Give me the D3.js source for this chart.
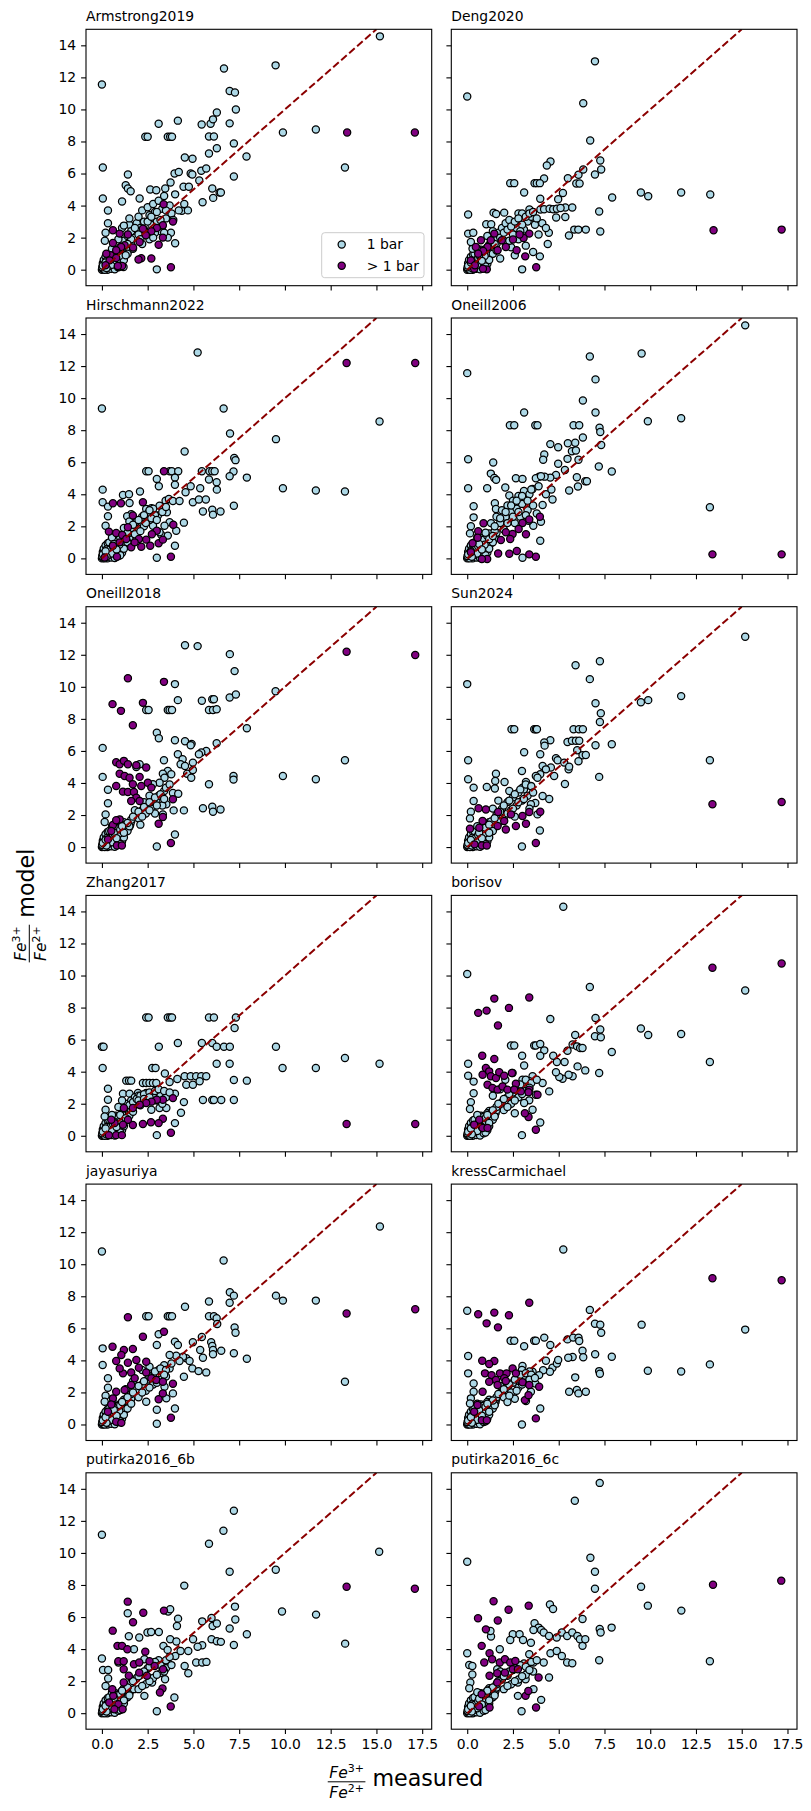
<!DOCTYPE html>
<html>
<head>
<meta charset="utf-8">
<script src="https://cdn.jsdelivr.net/npm/d3@7"></script>
<style>
  body { margin: 0; background: #fff; }
  svg { display: block; font-family: "DejaVu Sans", sans-serif; }
</style>
</head>
<body>
<svg id="chart" width="811" height="1811"></svg>
<script>
// ---- data ----
const panelNames = ["Armstrong2019", "Deng2020", "Hirschmann2022", "Oneill2006", "Oneill2018", "Sun2024",
    "Zhang2017", "borisov", "jayasuriya", "kressCarmichael", "putirka2016_6b", "putirka2016_6c"];
const xTicks = [0, 2.5, 5, 7.5, 10, 12.5, 15, 17.5];
const yTicks = [0, 2, 4, 6, 8, 10, 12, 14];
const legendLabels = ["1 bar", "> 1 bar"];

// black blob near the origin, same samples in every panel
const nearOrigin = [[0,0],[0.03,0.05],[0.08,0.02],[0.12,0.1],[0.18,0.05],[0.22,0.2],[0.1,0.25],[0.3,0.12],[0.28,0.35],
    [0.38,0.28],[0.35,0.5],[0.48,0.42],[0.45,0.15],[0.55,0.6],[0.52,0.82],[0.65,0.5],[0.72,0.78],[0.8,0.98],[0.88,0.7],
    [0.62,0.25],[0.82,0.4],[0.98,0.62],[0.3,0],[0.5,0.05],[0.7,0.02],[0.05,0.4],[0.1,0.6],[0.2,0.8],[0.32,0.95],
    [0.15,0],[0.4,0.7],[0.6,1.1],[0.9,1.0],[1.05,0.85],[0.75,1.25],[1.1,0.35],[0.9,0.15],[0.02,0.15],[0.25,0.55],[0.7,0.95],
    [1.15,1.1],[1.25,1.3],[1.35,1.2],[1.45,1.5],[1.55,1.4],[1.2,1.55],[1.0,1.25],[0.85,1.15],[1.3,0.95],[1.5,1.25],
    [1.4,1.0],[1.6,1.6],[1.1,1.4],[0.95,0.45],[1.2,0.6],[0.4,1.0],[0.55,1.3],[0.15,0.35],[0.45,0.55],[0.6,0.75],
    [0.75,0.65],[0.95,0.85],[0.35,0.2],[0.55,0.3],[0.25,0.1],[0.65,0.9],[1.0,0.2],[0.05,0.25],[0.2,0.45],[0.8,0.55]];

const armstrong1bar = [[0,11.56],[0.05,6.38],[0.05,4.44],[0.33,3.69],[0.33,2.9],[0.2,2.3],[0.16,1.8],[1.1,4.25],[1.42,5.94],
    [1.3,5.27],[1.42,5.06],[1.57,4.9],[2.06,4.44],[2.37,8.3],[2.5,8.3],[3.1,9.1],[3.6,8.3],[3.73,8.3],[3.83,8.3],[4.15,9.3],
    [2.64,5.0],[2.97,4.96],[3.46,5.06],[3.75,5.44],[3.97,6.0],[4.2,6.1],[4.53,7.0],[4.95,6.92],[4.85,6.0],[4.94,5.94],
    [4.46,5.17],[4.75,5.17],[5.32,5.56],[5.43,6.17],[5.7,6.31],[5.5,4.21],[5.45,9.06],[5.94,9.1],[6.07,9.38],[6.28,9.81],
    [5.85,8.31],[6.12,8.31],[5.85,7.25],[6.28,7.58],[6.03,5.06],[6.08,4.48],[6.43,4.81],[6.5,4.81],[6.67,12.56],[6.98,11.15],
    [7.27,11.06],[6.98,9.13],[7.32,10.0],[7.21,7.88],[7.21,5.81],[7.9,7.06],[9.49,12.75],[9.89,8.56],[11.69,8.75],[13.28,6.38],
    [15.19,14.56],[3.0,0.02],[4.0,1.65],[3.77,2.31],[4.37,3.67],[4.7,3.7],[4.5,4.1],[0.87,0.17],[1.18,0.17],
    [1.0,1.4],[1.2,1.8],[1.4,2.1],[1.5,2.8],[1.6,2.4],[1.8,2.0],[1.9,2.9],[2.0,3.3],[2.1,2.6],[2.2,3.7],[2.3,3.0],[2.4,2.2],
    [2.5,3.9],[2.6,3.4],[2.7,2.8],[2.8,4.1],[2.9,3.6],[3.0,3.0],[3.1,4.3],[3.2,2.4],[3.3,3.8],[3.4,4.6],[3.5,3.2],[3.6,2.0],
    [3.7,4.0],[3.8,3.5],[4.0,4.7],[4.2,3.7],[1.3,0.9],[1.7,1.3],[2.2,1.6],[2.6,1.9],[2.9,2.3],[3.3,2.7],[1.1,2.6],[1.5,3.2],
    [0.9,1.9],[1.2,2.75],[1.8,2.6],[2.0,2.2],[2.3,2.5],[2.5,3.0],[2.7,3.3],[3.0,3.6],[3.2,3.1],[3.5,3.7],[2.1,1.9],[1.6,1.9],
    [1.4,1.6],[2.8,2.0],[3.4,2.3],[3.9,3.1]];
const armstrongHigh = [[13.4,8.56],[17.1,8.56],[3.77,0.15],[2.7,0.7],[3.37,4.08],[3.88,3.0],[3.33,2.0],[3.1,1.56],[3.33,2.77],
    [3.0,2.6],[2.7,2.4],[2.4,2.15],[2.24,2.56],[2.06,1.73],[2.15,0.71],[2.0,0.63],[1.7,1.38],[1.42,2.2],[1.24,1.52],[0.97,2.25],
    [0.6,2.46],[0.6,1.67],[0.47,0.9],[1.1,0.23],[0.87,0.23],[0.78,0.73],[0.24,1.0],[1.05,1.42],[0.78,1.21],[0.42,0.58],[0.2,0.27]];

const deng1bar = [[0,10.81],[0.05,3.44],[0.05,2.25],[0.33,2.31],[6.34,10.38],[6.98,13.0],[6.72,8.06],[7.27,6.81],[7.32,6.25],
    [6.98,5.94],[7.21,3.63],[7.27,2.38],[7.92,4.5],[9.49,4.81],[9.89,4.58],[11.69,4.81],[13.28,4.69],[4.55,6.75],[4.35,6.5],
    [4.2,5.69],[3.68,5.4],[3.8,5.4],[3.97,5.4],[2.35,5.4],[2.57,5.4],[3.11,4.81],[3.99,4.42],[5.5,5.71],[5.96,5.38],[6.14,5.38],
    [6.08,5.92],[6.34,6.25],[4.97,4.4],[5.36,3.88],[5.74,3.88],[5.23,4.79],[4.86,3.25],[5.36,3.29],[5.85,2.5],[6.07,2.5],
    [6.48,2.5],[5.56,2.13],[4.46,2.31],[3.97,0.83],[3.0,0.02],[1.44,3.56],[1.58,3.48],[2.02,3.56],[1.04,2.83],[1.31,2.83],
    [2.8,3.5],[3.0,3.5],[3.4,3.75],[3.7,3.2],[4.0,3.75],[4.2,3.77],[4.5,3.8],[4.7,3.77],[4.9,3.8],[5.1,3.85],[0.29,1.31],[0.2,1.73],
    [1.2,1.5],[1.5,1.9],[1.7,2.3],[1.9,2.6],[2.1,2.9],[2.3,3.1],[2.5,2.2],[2.7,2.6],[2.9,3.0],[3.1,2.5],[3.3,3.0],[3.5,3.3],
    [3.7,2.8],[3.9,2.2],[4.1,2.9],[4.3,2.6],[2.0,1.8],[2.4,1.4],[2.8,1.9],[3.2,1.5],[1.6,1.2],[1.1,2.1],[1.4,2.4],[3.6,1.1],
    [2.6,0.9],[1.8,0.7],[4.4,1.6],[1.8,2.0],[2.0,2.3],[2.2,2.5],[2.4,2.7],[2.6,3.0],[2.8,3.2],[3.0,2.8],[3.2,3.3],[3.4,3.5],
    [3.6,3.6],[1.5,1.6],[2.3,1.8],[2.9,2.4],[3.8,3.2]];
const dengHigh = [[13.46,2.46],[17.18,2.5],[3.77,0.15],[3.17,0.83],[3.39,2.25],[3.08,1.98],[2.86,2.19],[2.7,1.21],[2.5,1.88],
    [2.11,1.42],[1.89,1.83],[1.66,1.21],[1.48,2.25],[1.29,1.83],[1.11,1.42],[0.87,1.17],[0.75,1.83],[0.47,1.42],[1.07,0.02],
    [0.86,0.06],[0.38,0.06],[0.2,0.58],[0.6,1.0],[0.42,0.27]];

const hirsch1bar = [[0,9.35],[5.23,12.85],[6.65,9.35],[7.0,7.79],[9.51,7.44],[15.17,8.54],[4.52,6.67],[7.23,6.27],[7.3,6.13],
    [7.19,5.42],[6.98,5.13],[7.92,5.04],[9.89,4.38],[11.69,4.23],[13.28,4.17],[7.21,3.29],[2.42,5.44],[2.55,5.44],[3.7,5.44],
    [3.82,5.44],[4.17,5.44],[3.0,4.96],[3.11,4.5],[3.99,5.04],[3.99,4.6],[5.46,5.44],[5.88,5.44],[6.03,5.44],[6.16,5.44],
    [5.85,4.92],[6.27,4.75],[6.28,4.29],[5.37,4.38],[4.85,4.5],[4.57,4.13],[4.97,3.5],[5.3,3.67],[5.68,3.67],[5.52,2.92],
    [6.03,3.04],[6.07,2.73],[6.48,2.92],[4.48,2.23],[3.99,0.79],[3.0,0.04],[0.04,4.29],[0.04,3.5],[0.33,3.23],[0.33,2.63],
    [0.2,2.04],[1.15,3.96],[1.48,4.0],[2.08,4.17],[1.51,3.46],[1.6,2.75],[1.38,2.63],[2.42,3.08],[2.7,3.13],[3.15,3.29],
    [3.48,3.6],[3.66,3.71],[3.88,3.58],[4.24,3.58],[3.06,2.67],[3.55,2.88],[3.7,2.25],[3.42,2.04],[3.24,1.48],[2.02,1.83],
    [2.79,2.04],[3.15,1.63],[3.6,1.42],[4.06,1.73],[1.0,1.3],[1.3,1.5],[1.6,1.9],[1.9,2.3],[2.2,2.6],[2.5,2.8],[2.8,3.1],
    [1.8,1.5],[2.3,2.0],[2.6,2.4],[1.2,1.9],[1.5,2.3],[1.7,2.1],[2.0,2.4],[2.3,2.7],[2.6,3.0],[2.9,2.7],[2.1,1.7],[2.4,2.2],
    [2.7,2.5],[3.0,2.4],[3.3,2.9],[1.4,1.6],[3.5,3.2]];
const hirschHigh = [[13.37,12.19],[17.12,12.19],[3.77,0.1],[0.82,0.1],[0.6,3.44],[1.04,3.44],[2.24,3.5],[1.69,2.67],[1.42,1.94],
    [0.38,1.67],[0.78,1.58],[1.11,1.46],[3.9,2.1],[3.39,5.44],[3.0,1.73],[2.73,1.5],[2.42,1.17],[2.15,0.73],[1.6,0.69],
    [2.64,0.79],[3.1,0.94],[3.33,1.17],[2.02,1.21],[1.79,1.0],[1.33,1.21],[0.97,1.0],[0.6,0.79],[0.15,0.06]];

const oneill06_1bar = [[15.19,14.54],[0,11.56],[6.7,12.6],[9.53,12.79],[7.01,11.17],[6.32,9.85],[7.01,9.1],[7.23,8.15],
    [7.27,7.88],[7.32,7.08],[9.87,8.56],[11.69,8.75],[13.26,3.19],[3.11,9.1],[2.33,8.31],[2.57,8.31],[3.72,8.31],[3.84,8.31],
    [5.81,8.31],[6.12,8.31],[6.32,7.54],[5.9,7.21],[5.5,7.19],[4.54,7.13],[4.97,6.94],[4.21,6.48],[4.15,6.15],[5.72,6.69],
    [5.94,6.73],[6.08,6.15],[5.48,6.21],[4.97,5.9],[5.34,5.52],[4.85,5.21],[4.54,5.04],[4.23,5.1],[3.93,5.1],[7.19,5.73],
    [7.9,5.42],[5.99,5.06],[6.05,4.48],[6.45,4.81],[6.54,4.81],[5.57,4.23],[1.42,5.98],[1.29,5.29],[1.48,5.02],[1.58,4.9],
    [0.05,6.19],[0.05,4.38],[1.09,4.38],[2.08,4.42],[2.66,5.0],[3.02,4.96],[3.75,5.0],[4.03,5.13],[0.35,3.25],[0.35,2.56],
    [0.2,2.0],[0.15,1.56],[3.99,1.1],[3.02,0.04],[1.51,3.44],[1.57,3.08],[2.3,3.92],[3.21,3.71],[3.57,4.33],[4.66,3.67],
    [4.12,3.33],[4.03,2.29],[3.61,2.04],[3.35,2.35],[1.0,1.6],[1.3,2.2],[1.6,2.6],[1.9,3.0],[2.2,3.3],[2.5,3.6],[2.8,3.9],
    [3.1,4.2],[3.4,4.0],[1.8,2.2],[2.1,2.6],[2.4,2.9],[2.7,3.1],[3.0,3.4],[3.3,3.0],[3.6,3.3],[2.0,1.8],[2.6,2.2],[1.2,1.2],
    [1.5,1.7],[2.9,2.6],[3.8,2.8],[4.3,4.0],[4.6,4.3],[1.5,2.0],[1.8,2.5],[2.1,2.9],[2.4,3.3],[2.7,3.6],[3.0,3.9],[3.3,3.6],
    [2.2,2.2],[2.5,2.6],[2.8,2.9],[1.4,1.4],[3.5,4.3],[3.9,4.5],[3.2,2.7]];
const oneill06High = [[13.4,0.25],[17.18,0.25],[3.75,0.1],[3.39,0.25],[2.71,0.46],[2.3,0.29],[1.69,0.31],[1.09,-0.04],
    [0.8,-0.04],[3.97,2.6],[3.39,2.42],[3.02,2.21],[3.21,1.5],[2.81,1.83],[2.48,1.52],[2.11,1.63],[2.35,1.21],[1.84,1.15],
    [0.89,2.19],[0.6,1.69],[0.57,1.29],[0.29,0.94],[0.2,0.38]];

const oneill18_1bar = [[4.54,12.6],[5.23,12.54],[6.99,12.04],[7.25,10.98],[3.99,10.17],[4.15,9.17],[5.46,9.13],[6.03,9.23],
    [6.12,9.23],[6.98,9.33],[7.32,9.52],[9.49,9.73],[2.42,8.56],[2.55,8.56],[3.6,8.56],[3.7,8.56],[3.83,8.56],[5.85,8.56],
    [6.07,8.56],[6.27,8.6],[7.92,7.42],[3.0,7.13],[3.11,6.79],[3.99,6.67],[4.54,6.6],[4.9,6.44],[4.85,6.35],[5.7,6.0],[5.43,5.9],
    [5.3,5.79],[6.27,6.48],[4.15,5.79],[4.41,5.48],[4.3,5.17],[4.54,5.06],[3.39,5.42],[3.6,4.75],[3.33,4.58],[3.79,4.54],
    [4.66,4.58],[4.97,4.81],[4.88,4.33],[4.97,5.27],[7.19,4.44],[7.19,4.21],[9.89,4.44],[11.69,4.23],[13.28,5.42],[5.85,3.92],
    [5.52,2.42],[6.03,2.52],[6.07,2.21],[6.48,2.35],[4.48,2.29],[3.99,0.79],[3.0,0.04],[0.04,6.19],[0.04,4.38],[0.33,3.58],
    [0.33,2.73],[0.2,2.04],[0.15,1.56],[2.06,5.17],[1.88,5.0],[3.42,4.33],[3.88,3.38],[4.17,3.33],[3.15,4.02],[2.79,3.92],
    [2.97,2.88],[3.52,2.67],[3.92,2.29],[3.33,2.04],[1.0,1.1],[1.3,1.4],[1.6,1.7],[1.9,2.0],[2.2,2.3],[2.5,2.6],[2.8,2.9],
    [3.1,3.2],[3.4,3.5],[1.5,1.3],[2.0,1.8],[2.4,2.1],[2.7,2.4],[1.8,2.3],[2.3,2.8],[2.6,3.2],[2.1,1.4],[2.9,2.1],[3.3,2.6],[1.2,0.9],
    [1.4,1.5],[1.7,1.9],[2.0,2.2],[2.3,2.5],[2.6,2.8],[2.9,3.1],[3.2,3.3],[3.5,3.7],[3.7,3.9],[2.2,1.9],[2.6,2.3],[3.0,2.6],
    [1.1,1.3],[3.4,3.0]];
const oneill18High = [[13.37,12.19],[17.12,11.98],[1.42,10.54],[3.39,10.31],[0.58,8.92],[1.04,8.5],[2.24,9.0],[1.69,7.6],
    [0.78,5.29],[0.97,5.17],[1.2,5.38],[1.42,5.17],[1.88,5.1],[2.42,4.96],[0.97,4.58],[1.24,4.44],[1.51,4.33],[1.69,3.92],
    [2.06,4.38],[2.15,3.81],[2.51,4.02],[2.7,3.71],[0.78,3.81],[1.15,3.46],[1.42,3.44],[1.75,3.44],[1.88,3.08],[1.6,2.88],
    [2.06,2.88],[3.88,2.98],[3.33,1.88],[3.1,1.46],[3.77,0.25],[0.82,0.1],[1.09,0.1],[0.6,1.38],[0.51,1.0],[0.33,0.48],
    [0.97,1.73],[0.78,1.67]];

const sun1bar = [[15.19,13.13],[0,10.17],[5.92,11.35],[7.25,11.6],[6.7,10.48],[7.01,8.98],[7.3,8.35],[7.25,7.81],[9.49,9.04],
    [9.89,9.17],[11.69,9.42],[13.26,5.42],[2.42,7.35],[2.57,7.35],[3.66,7.35],[3.75,7.35],[3.81,7.35],[5.81,7.35],[6.1,7.35],
    [6.32,7.35],[4.54,6.67],[4.21,6.52],[4.23,6.33],[3.11,5.92],[3.99,5.79],[5.48,6.56],[5.72,6.63],[5.94,6.63],[6.12,6.63],
    [6.01,6.04],[6.3,5.73],[6.48,5.75],[6.08,5.35],[7.01,6.35],[7.9,6.42],[7.21,4.38],[4.85,5.54],[4.94,5.42],[5.3,5.27],
    [5.54,4.85],[5.57,5.02],[5.34,3.94],[0.05,5.42],[0.05,4.23],[0.35,3.71],[0.35,2.88],[0.2,2.21],[0.15,1.79],[1.57,4.58],
    [1.53,4.13],[1.07,3.75],[2.04,4.06],[1.51,3.65],[3.97,1.04],[2.99,0.04],[4.75,4.44],[4.57,4.96],[4.12,5.06],[4.3,4.85],
    [3.99,4.54],[2.99,4.75],[3.21,4.06],[3.75,4.44],[3.02,3.71],[3.48,3.81],[3.84,4.33],[4.48,3.0],[4.12,3.19],[3.72,2.75],
    [3.48,2.67],[3.84,2.04],[1.0,1.2],[1.3,1.6],[1.6,2.0],[1.9,2.4],[2.2,2.8],[2.5,3.1],[2.8,3.4],[3.1,3.6],[1.8,1.6],[2.1,2.0],
    [2.4,2.3],[2.7,2.6],[3.0,2.9],[3.3,3.2],[1.4,2.4],[1.7,2.9],[2.3,3.5],[2.6,1.9],[3.4,2.4],[1.2,0.9],[1.5,1.8],[1.8,2.2],
    [2.0,2.6],[2.3,2.9],[2.6,3.3],[2.9,3.6],[3.2,3.9],[3.5,3.8],[2.2,2.1],[2.5,2.4],[2.8,2.8],[3.1,3.0],[3.6,3.4],[1.2,1.4]];
const sunHigh = [[13.4,2.67],[17.18,2.81],[3.75,0.25],[3.99,2.21],[3.39,2.19],[3.02,1.94],[3.21,1.46],[2.66,1.31],[2.11,1.1],
    [1.66,1.31],[1.69,2.19],[1.02,2.35],[0.62,2.42],[0.84,1.63],[0.66,1.21],[0.15,1.15],[0.8,0.1],[1.07,0.1],[0.4,0.17],
    [2.39,2.04],[2.02,1.63]];

const zhang1bar = [[2.42,7.38],[2.55,7.38],[3.6,7.38],[3.73,7.38],[3.83,7.38],[5.85,7.38],[6.12,7.38],[7.32,7.38],[7.25,6.73],
    [0,5.56],[0.09,5.56],[3.11,5.56],[4.15,5.79],[5.46,5.79],[6.03,5.79],[6.27,5.56],[6.67,5.56],[6.99,5.56],[9.51,5.56],
    [13.28,4.85],[15.17,4.5],[9.87,4.23],[11.69,4.23],[6.27,4.5],[6.98,4.5],[7.21,3.48],[7.92,3.44],[0.04,4.23],[2.75,4.23],
    [2.93,4.23],[3.44,3.88],[1.33,3.44],[1.48,3.44],[1.6,3.44],[2.24,3.29],[2.42,3.29],[2.6,3.29],[2.79,3.29],[2.97,3.29],
    [3.7,3.35],[4.12,3.54],[4.52,3.71],[4.85,3.71],[5.15,3.71],[5.43,3.71],[5.7,3.71],[4.61,3.19],[4.97,3.19],[5.34,3.4],
    [0.33,2.94],[0.33,2.25],[0.2,1.63],[0.15,1.21],[1.15,2.63],[1.51,2.63],[1.97,2.67],[2.42,2.67],[3.0,2.77],[3.55,2.63],
    [3.99,2.63],[4.48,2.1],[5.52,2.23],[6.03,2.23],[6.12,2.23],[6.52,2.23],[7.21,2.23],[4.32,1.44],[3.99,0.79],[3.0,0.04],
    [3.15,1.73],[3.52,1.73],[2.7,1.63],[1.0,1.3],[1.2,1.7],[1.4,2.0],[1.6,2.2],[1.8,2.4],[2.0,2.5],[2.2,2.4],[2.5,2.5],
    [2.8,2.6],[3.2,2.5],[3.5,2.4],[1.7,1.5],[2.1,1.9],[2.4,2.1],[2.7,2.2],[3.0,2.2],[3.3,2.0],[1.3,1.1],[0.9,1.8],[1.1,2.2],
    [1.5,1.9],[1.7,2.1],[1.9,2.3],[2.1,2.5],[2.3,2.6],[2.6,2.7],[2.9,2.8],[3.1,2.9],[3.4,2.8],[3.7,2.7],[2.0,2.2],[2.3,2.3],[2.6,2.4]];
const zhangHigh = [[13.37,0.73],[17.12,0.73],[3.77,0.19],[3.88,2.35],[3.33,2.25],[3.0,2.25],[2.71,2.13],[2.42,2.04],[2.06,1.94],
    [1.69,1.73],[1.2,1.73],[3.33,1.06],[3.1,0.79],[2.68,0.85],[2.24,0.73],[1.69,0.67],[1.42,1.0],[1.15,0.69],[0.69,0.79],
    [0.51,1.0],[0.38,0.04],[0.78,0.04],[1.09,0.04]];

const borisov1bar = [[5.25,14.29],[0,10.1],[6.7,9.29],[4.54,7.29],[7.01,7.35],[7.27,6.63],[6.98,6.21],[7.3,6.15],[9.49,6.69],
    [9.89,6.29],[11.69,6.35],[15.19,9.06],[13.26,4.6],[7.9,5.23],[7.21,3.92],[5.9,6.29],[2.39,5.63],[2.57,5.63],[3.66,5.63],
    [3.75,5.63],[3.99,5.73],[5.76,5.69],[6.0,5.58],[6.17,5.48],[6.3,5.48],[5.48,5.31],[4.7,5.0],[4.9,4.6],[5.32,4.6],[4.21,5.33],
    [3.99,5.0],[3.0,5.0],[3.11,4.38],[6.03,4.33],[6.45,4.08],[5.76,3.71],[5.54,3.81],[5.21,3.56],[5.03,3.67],[4.85,3.96],
    [0.05,4.5],[0.05,3.75],[0.35,3.38],[0.35,2.65],[0.2,2.1],[0.15,1.67],[4.48,2.77],[3.99,0.83],[2.99,0.04],[2.48,3.92],
    [2.08,3.5],[3.02,3.5],[3.57,3.71],[4.12,3.29],[3.75,2.56],[3.39,2.21],[3.11,2.04],[3.57,1.63],[1.0,1.1],[1.3,1.4],[1.6,1.8],
    [1.9,2.1],[2.2,2.4],[2.5,2.7],[2.8,3.0],[3.1,3.2],[3.4,3.4],[1.5,1.2],[2.0,1.6],[2.4,2.0],[2.8,2.4],[3.2,2.8],[1.4,2.5],
    [1.8,2.9],[1.2,0.8],[2.6,1.4],[1.4,1.6],[1.7,2.0],[2.0,2.3],[2.3,2.6],[2.6,2.9],[2.9,3.2],[3.2,3.5],[3.5,3.3],[2.2,1.8],
    [2.6,2.2],[3.0,2.6],[3.4,3.0],[1.1,1.3],[3.8,3.5]];
const borisovHigh = [[13.4,10.48],[17.18,10.75],[0.6,7.67],[1.06,7.81],[1.48,8.56],[3.39,8.63],[2.28,7.98],[1.68,6.88],[0.82,5.0],
    [1.48,4.79],[1.02,4.23],[1.2,4.02],[0.84,3.81],[1.29,3.71],[1.57,3.6],[1.75,3.96],[2.02,3.75],[2.44,3.92],[1.11,3.19],
    [1.38,2.98],[1.66,2.88],[1.93,3.08],[2.2,2.88],[2.66,3.25],[2.57,2.88],[2.93,2.77],[3.39,2.88],[3.84,2.56],[3.35,2.71],
    [3.35,1.17],[3.15,1.4],[3.75,0.38],[0.66,1.0],[0.38,0.69],[0.84,0.48],[1.11,0.48]];

const jaya1bar = [[0,10.79],[15.19,12.35],[6.65,10.23],[6.99,8.25],[7.21,8.04],[6.98,7.6],[9.51,8.04],[9.89,7.73],[11.69,7.73],
    [4.54,7.35],[5.85,7.67],[2.42,6.75],[2.55,6.75],[3.6,6.75],[3.7,6.75],[3.83,6.75],[5.85,6.75],[6.12,6.75],[6.27,6.63],
    [6.3,6.27],[7.25,6.06],[7.3,5.73],[3.1,5.63],[3.99,5.17],[4.15,4.96],[4.97,5.13],[5.46,5.46],[5.97,5.13],[6.03,4.9],
    [6.07,4.65],[6.52,4.6],[6.07,4.38],[7.21,4.44],[7.92,4.1],[13.28,2.67],[5.37,4.65],[5.52,4.17],[4.61,4.13],[4.43,4.23],
    [4.24,3.96],[4.06,4.29],[3.7,4.33],[4.94,3.5],[5.28,3.33],[5.7,3.25],[4.79,3.96],[3.0,4.96],[0.04,4.75],[0.04,3.71],
    [0.33,2.88],[0.33,2.29],[0.2,1.79],[0.15,1.42],[4.48,2.98],[3.99,1.0],[3.0,0.04],[3.0,0.92],[2.42,1.42],[3.52,1.63],
    [3.88,1.94],[3.42,2.35],[1.0,1.2],[1.3,1.5],[1.6,1.9],[1.9,2.2],[2.2,2.5],[2.5,2.8],[2.8,3.1],[3.1,3.4],[3.4,3.7],[3.7,3.5],
    [1.6,1.3],[2.0,1.7],[2.4,2.1],[2.8,2.5],[3.2,2.8],[3.5,3.0],[1.3,2.2],[1.7,2.7],[2.2,3.4],[2.6,3.6],[1.4,1.7],[1.7,2.0],
    [2.0,2.4],[2.3,2.7],[2.6,3.0],[2.9,3.3],[3.2,3.5],[3.5,3.4],[2.2,2.0],[2.6,2.3],[3.0,2.6],[3.4,3.1],[1.1,1.4],[3.8,3.8]];
const jayaHigh = [[13.37,6.92],[17.12,7.19],[1.42,6.69],[2.24,5.48],[3.39,5.79],[0.58,4.85],[1.2,4.65],[1.69,4.71],[0.78,3.96],
    [1.06,4.33],[1.42,3.85],[1.88,4.02],[2.42,3.92],[2.02,3.54],[1.6,3.25],[1.15,3.19],[0.97,3.5],[1.79,2.88],[2.42,3.25],
    [2.7,2.88],[2.97,2.77],[3.33,2.67],[3.88,2.54],[1.6,2.46],[1.24,2.15],[0.78,2.04],[0.6,1.63],[0.51,1.25],[0.33,0.79],
    [3.1,1.58],[3.33,1.94],[3.77,0.42],[0.78,0.17],[1.06,0.1]];

const kress1bar = [[5.25,10.92],[0,7.1],[6.7,7.15],[6.98,6.29],[7.27,6.23],[7.32,5.73],[9.53,6.23],[15.19,5.92],[13.26,3.75],
    [9.87,3.35],[11.69,3.31],[7.9,4.23],[7.21,3.33],[7.25,3.17],[2.37,5.23],[2.57,5.23],[3.66,5.23],[3.75,5.23],[4.21,5.42],
    [3.11,4.88],[4.54,4.96],[5.48,5.31],[5.79,5.42],[6.08,5.42],[6.12,5.21],[6.3,4.6],[6.34,4.19],[6.99,4.38],[5.76,4.21],
    [5.52,4.17],[4.66,3.54],[4.9,3.81],[4.97,4.02],[4.52,3.29],[4.15,3.38],[4.3,3.98],[5.9,2.94],[5.57,2.04],[5.99,2.15],
    [6.08,1.94],[6.48,2.04],[0.05,4.27],[0.05,3.19],[0.35,2.56],[0.35,2.04],[0.2,1.63],[0.15,1.31],[3.99,1.0],[2.99,0],
    [3.02,3.65],[3.57,3.29],[3.93,3.08],[3.72,2.56],[2.99,3.4],[3.48,2.04],[3.21,1.46],[1.0,1.1],[1.3,1.4],[1.6,1.7],[1.9,2.0],
    [2.2,2.3],[2.5,2.6],[2.8,2.8],[3.1,3.0],[1.5,1.2],[2.0,1.7],[2.4,2.0],[2.8,2.3],[3.2,2.6],[2.2,1.4],[2.6,1.6],[1.8,2.4],
    [1.2,0.8],[3.4,3.3],[1.4,1.5],[1.7,1.9],[2.0,2.2],[2.3,2.5],[2.6,2.8],[2.9,3.1],[3.2,3.2],[3.5,3.1],[2.3,1.8],[2.7,2.1],
    [3.0,2.5],[3.4,2.8],[1.1,1.3],[3.7,2.9]];
const kressHigh = [[13.4,9.13],[17.18,9.0],[3.39,7.6],[0.6,6.88],[1.48,6.98],[2.28,6.81],[1.06,6.31],[1.68,6.06],[0.82,3.98],
    [1.48,3.96],[1.2,3.77],[0.97,3.19],[1.33,3.08],[1.79,3.19],[2.15,3.19],[2.48,3.5],[2.66,3.19],[2.02,2.88],[1.57,2.77],
    [1.2,2.67],[1.66,2.46],[2.11,2.71],[3.02,2.63],[3.39,2.46],[3.93,2.35],[0.84,2.04],[0.56,1.21],[0.38,0.79],[3.15,1.52],
    [3.35,1.83],[3.75,0.38],[0.8,0.27],[1.07,0.27]];

const put6b_1bar = [[0,11.13],[15.15,10.07],[7.21,12.63],[6.64,11.38],[5.85,10.57],[6.98,8.83],[9.5,8.95],[4.5,7.96],
    [9.84,6.34],[11.7,6.15],[13.29,4.34],[7.27,6.65],[7.29,5.84],[7.92,4.92],[6.98,5.28],[7.21,4.26],[1.41,6.23],[1.47,4.8],
    [2.04,4.72],[2.49,5.03],[2.69,5.07],[3.11,5.07],[3.62,6.34],[3.73,6.48],[4.16,5.9],[3.73,4.61],[4.07,4.47],[4.1,5.44],
    [3.36,4.2],[3.59,3.95],[5.48,5.73],[5.99,5.94],[6.05,5.44],[6.28,5.59],[4.98,4.61],[5.48,4.24],[5.99,4.61],[6.28,4.49],
    [6.5,4.45],[5.23,4.15],[5.15,3.16],[5.48,3.16],[5.71,3.2],[4.01,3.57],[4.3,3.88],[4.72,3.88],[4.52,2.95],[4.72,2.49],
    [0,3.41],[0.06,2.7],[0.34,2.7],[0.34,2.16],[0.2,1.7],[3.96,0.98],[3.0,0.12],[0.9,3.16],[1.75,3.99],[2.32,3.37],[2.88,3.16],
    [2.04,2.33],[2.74,1.91],[3.45,2.12],[1.75,1.5],[2.32,1.08],[1.0,1.2],[1.3,1.5],[1.6,1.9],[1.9,2.2],[2.2,2.5],[2.5,2.8],
    [2.8,3.1],[3.1,3.3],[1.5,1.1],[2.0,1.5],[2.4,1.8],[2.8,2.2],[3.2,2.5],[3.5,2.8],[3.8,3.0],[1.2,0.8],[1.4,1.6],[1.7,2.0],
    [2.0,2.3],[2.3,2.6],[2.6,2.9],[2.9,3.2],[3.2,3.0],[3.5,3.3],[2.2,1.7],[2.6,2.0],[3.0,2.4],[3.4,2.6],[1.1,1.4],[3.7,3.5]];
const put6bHigh = [[13.37,7.89],[17.1,7.77],[1.41,6.96],[2.26,6.27],[3.39,6.4],[1.7,5.67],[0.59,5.15],[0.85,4.2],[1.1,4.2],
    [1.39,3.99],[2.37,3.84],[0.9,3.24],[1.19,3.24],[1.75,3.05],[2.04,3.16],[2.6,3.24],[1.19,2.74],[1.47,2.33],[2.04,2.53],
    [2.46,2.33],[2.88,2.95],[3.34,2.74],[3.31,1.54],[3.17,1.29],[3.76,0.42],[0.4,0.66],[0.9,0.56],[1.13,0.25],[0.68,0.25],
    [0.62,1.08],[0.57,1.5],[1.19,1.91]];

const put6c_1bar = [[0,9.45],[7.24,14.37],[5.88,13.25],[6.73,9.7],[6.98,8.83],[6.98,7.77],[9.5,7.89],[9.87,6.71],[11.7,6.4],
    [13.26,3.24],[4.52,6.78],[4.69,6.5],[6.3,5.88],[7.24,5.25],[7.29,5.03],[7.89,5.34],[7.21,3.3],[3.68,5.61],[3.9,5.34],
    [4.04,5.19],[3.62,5.19],[4.18,5.03],[4.47,4.82],[4.89,4.72],[5.17,5.03],[5.46,4.82],[5.74,5.03],[6.02,4.82],[6.16,4.61],
    [6.3,4.2],[6.45,4.61],[2.49,4.92],[2.35,4.57],[2.86,4.92],[3.05,4.57],[3.48,4.4],[1.3,4.78],[1.27,5.13],[1.78,3.99],
    [4.55,3.74],[4.89,3.88],[5.17,3.57],[5.46,3.16],[5.74,3.12],[3.39,3.68],[3.62,3.16],[4.18,3.16],[4.47,2.22],[0,3.74],
    [0.11,3.01],[0.28,2.95],[0.28,2.41],[0.17,1.91],[0.11,1.56],[4.04,0.83],[2.97,0.12],[1.64,2.74],[2.21,2.33],[2.77,1.91],
    [3.19,2.12],[3.62,1.5],[2.77,1.08],[1.0,1.2],[1.3,1.5],[1.6,1.8],[1.9,2.1],[2.2,2.4],[2.5,2.7],[2.8,2.9],[3.1,3.1],[1.5,1.1],
    [2.0,1.5],[2.4,1.8],[2.8,2.1],[3.2,2.4],[3.6,2.6],[1.2,0.8],[1.8,2.6],[1.4,1.6],[1.7,2.0],[2.0,2.3],[2.3,2.6],[2.6,2.8],
    [2.9,3.0],[3.2,2.9],[3.5,3.2],[2.2,1.7],[2.6,2.0],[3.0,2.3],[3.4,2.7],[1.1,1.4],[3.8,3.3]];
const put6cHigh = [[13.43,8.02],[17.16,8.27],[1.44,6.98],[3.36,6.71],[2.26,6.46],[0.59,5.92],[1.67,5.78],[1.02,5.23],[1.22,3.74],
    [0.79,4.2],[0.93,3.16],[1.36,3.37],[1.78,3.16],[2.06,3.37],[2.35,3.16],[2.63,3.26],[2.49,2.74],[2.06,2.53],[1.64,2.49],
    [1.22,2.33],[1.64,1.91],[2.77,2.74],[3.9,2.22],[3.19,1.08],[3.34,1.39],[3.76,0.35],[0.79,1.18],[1.22,0.35],[0.65,0.42]];

const panelOneBar = [armstrong1bar, deng1bar, hirsch1bar, oneill06_1bar, oneill18_1bar, sun1bar,
    zhang1bar, borisov1bar, jaya1bar, kress1bar, put6b_1bar, put6c_1bar];
const panelHighP = [armstrongHigh, dengHigh, hirschHigh, oneill06High, oneill18High, sunHigh,
    zhangHigh, borisovHigh, jayaHigh, kressHigh, put6bHigh, put6cHigh];

// ---- layout ----
const svg = d3.select("#chart");
const colLeft = [86, 451.3];
const rowTop0 = 29.3, rowStep = 288.7;
const plotW = 345.7, plotH = 256.4;
const tickLen = 4.9;
const fontSize = 13.9;
const blue = "#add8e6", purple = "#800080";
const r = 3.6, edgeW = 1.25;

const xScale = d3.scaleLinear().domain([-0.87, 18.02]).range([0, plotW]);
const yScale = d3.scaleLinear().domain([-1, 15]).range([plotH, 0]);

panelNames.forEach((name, i) => {
    const col = i % 2, row = Math.floor(i / 2);
    const g = svg.append("g").attr("transform", `translate(${colLeft[col]},${rowTop0 + row * rowStep})`);

    g.append("defs").append("clipPath").attr("id", "clip" + i)
        .append("rect").attr("width", plotW).attr("height", plotH);

    //axis
    const xAxis = d3.axisBottom(xScale).tickValues(xTicks).tickSize(tickLen).tickPadding(4.9)
        .tickFormat(row === 5 ? d3.format(".1f") : "");
    const yAxis = d3.axisLeft(yScale).tickValues(yTicks).tickSize(tickLen).tickPadding(4.9)
        .tickFormat(col === 0 ? d3.format("d") : "");
    const gx = g.append("g").attr("transform", `translate(0,${plotH})`).call(xAxis);
    const gy = g.append("g").call(yAxis);
    [gx, gy].forEach(a => {
        a.select(".domain").remove();
        a.selectAll("line").attr("stroke", "#000").attr("stroke-width", 1.1);
        a.selectAll("text").attr("fill", "#000").style("font-size", fontSize + "px")
            .style("font-family", "'DejaVu Sans', sans-serif");
    });

    // scatter: 1 bar first, > 1 bar on top
    const pts = g.append("g").attr("clip-path", `url(#clip${i})`);
    pts.selectAll("circle.lo").data(nearOrigin.concat(panelOneBar[i])).join("circle")
        .attr("class", "lo")
        .attr("cx", d => xScale(d[0])).attr("cy", d => yScale(d[1])).attr("r", r)
        .attr("fill", blue).attr("stroke", "#000").attr("stroke-width", edgeW);
    pts.selectAll("circle.hi").data(panelHighP[i]).join("circle")
        .attr("class", "hi")
        .attr("cx", d => xScale(d[0])).attr("cy", d => yScale(d[1])).attr("r", r)
        .attr("fill", purple).attr("stroke", "#000").attr("stroke-width", edgeW);

    // 1:1 line
    pts.append("line")
        .attr("x1", xScale(0)).attr("y1", yScale(0))
        .attr("x2", xScale(15)).attr("y2", yScale(15))
        .attr("stroke", "#8b0000").attr("stroke-width", 2)
        .attr("stroke-dasharray", "7.4,3.2");

    // frame
    g.append("rect").attr("width", plotW).attr("height", plotH)
        .attr("fill", "none").attr("stroke", "#000").attr("stroke-width", 1.1);

    g.append("text").attr("x", 0).attr("y", -8.4)
        .style("font-size", fontSize + "px").attr("fill", "#000")
        .text(name);

    if (i === 0) {
        const lg = g.append("g").attr("transform", `translate(${plotW - 110}, ${plotH - 53})`);
        lg.append("rect").attr("width", 102.3).attr("height", 45).attr("rx", 3)
            .attr("fill", "#fff").attr("fill-opacity", 0.8)
            .attr("stroke", "#cccccc").attr("stroke-width", 1);
        [blue, purple].forEach((c, k) => {
            lg.append("circle").attr("cx", 20).attr("cy", 11.7 + k * 21.4).attr("r", r)
                .attr("fill", c).attr("stroke", "#000").attr("stroke-width", edgeW);
            lg.append("text").attr("x", 45).attr("y", 11.7 + k * 21.4).attr("dy", "0.36em")
                .style("font-size", fontSize + "px").attr("fill", "#000")
                .text(legendLabels[k]);
        });
    }
});

// ---- shared axis labels with the Fe3+/Fe2+ fraction ----
function fracLabel(cx, cy, rotate, word) {
    const lab = svg.append("g").attr("transform", `translate(${cx},${cy}) rotate(${rotate})`);
    const inner = lab.append("g");
    const num = inner.append("text").attr("y", -7.8).style("font-size", "15.5px").attr("fill", "#000");
    num.append("tspan").style("font-style", "italic").text("Fe");
    num.append("tspan").attr("dy", -6).style("font-size", "11px").text("3+");
    const den = inner.append("text").attr("y", 12.2).style("font-size", "15.5px").attr("fill", "#000");
    den.append("tspan").style("font-style", "italic").text("Fe");
    den.append("tspan").attr("dy", -6).style("font-size", "11px").text("2+");
    const nw = num.node().getComputedTextLength();
    const dw = den.node().getComputedTextLength();
    const fw = Math.max(nw, dw) + 3;
    num.attr("x", (fw - nw) / 2);
    den.attr("x", (fw - dw) / 2);
    inner.append("line").attr("x1", 0).attr("x2", fw).attr("y1", -4.2).attr("y2", -4.2)
        .attr("stroke", "#000").attr("stroke-width", 1);
    const w = inner.append("text").attr("x", fw + 7).attr("y", 0)
        .style("font-size", "22.2px").attr("fill", "#000").text(word);
    const total = fw + 7 + w.node().getComputedTextLength();
    inner.attr("transform", `translate(${-total / 2},0)`);
}
fracLabel(405.5, 1786, 0, "measured");
fracLabel(33.5, 905.5, -90, "model");
</script>
</body>
</html>
